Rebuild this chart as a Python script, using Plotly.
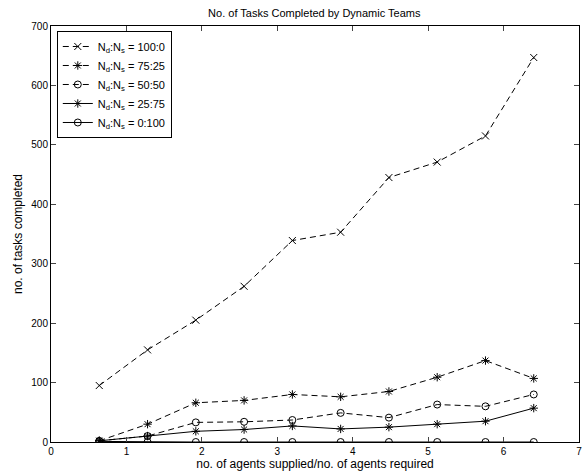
import plotly.graph_objects as go

x_ratio = [0.64, 1.28, 1.92, 2.56, 3.2, 3.84, 4.48, 5.12, 5.76, 6.4]
y_100_0 = [95, 155, 205, 262, 339, 353, 445, 471, 515, 647]
y_75_25 = [2, 30, 66, 70, 80, 76, 85, 109, 137, 107]
y_50_50 = [2, 10, 33, 34, 37, 49, 41, 63, 60, 80]
y_25_75 = [2, 10, 18, 21, 27, 22, 25, 30, 35, 57]
y_0_100 = [1, 0, 0, 0, 0, 0, 0, 0, 0, 0]
names = ["N<sub>d</sub>:N<sub>s</sub> = 100:0", "N<sub>d</sub>:N<sub>s</sub> = 75:25",
         "N<sub>d</sub>:N<sub>s</sub> = 50:50", "N<sub>d</sub>:N<sub>s</sub> = 25:75",
         "N<sub>d</sub>:N<sub>s</sub> = 0:100"]
x_ticks = [0, 1, 2, 3, 4, 5, 6, 7]
y_ticks = [0, 100, 200, 300, 400, 500, 600, 700]

series = [y_100_0, y_75_25, y_50_50, y_25_75, y_0_100]
symbols = ["x-thin-open", "asterisk-open", "circle-open", "asterisk-open", "circle-open"]
dashes = ["6px,4px", "6px,4px", "6px,4px", "solid", "solid"]

fig = go.Figure()
for ys, nm, sym, ds in zip(series, names, symbols, dashes):
    fig.add_trace(go.Scatter(
        x=x_ratio, y=ys, name=nm, mode="lines+markers",
        line=dict(color="black", width=1, dash=ds),
        marker=dict(symbol=sym, size=7, color="black", line=dict(color="black", width=1)),
    ))

font = dict(family="Liberation Sans, Arial, Helvetica, sans-serif", size=10, color="black")
fig.update_layout(
    width=582, height=475,
    margin=dict(l=51, r=3, t=26, b=33),
    paper_bgcolor="white", plot_bgcolor="white",
    font=font,
    title=dict(text="No. of Tasks Completed by Dynamic Teams", x=0.54, xanchor="center",
               y=0.973, yanchor="middle", font=dict(size=11)),
    xaxis=dict(range=[0, 7], tickvals=x_ticks, ticks="inside", ticklen=5, mirror="ticks",
               showline=True, linecolor="black", linewidth=1, showgrid=False, zeroline=False,
               ticklabeloverflow="allow", automargin=False,
               title=dict(text="no. of agents supplied/no. of agents required", standoff=1)),
    yaxis=dict(range=[0, 700], tickvals=y_ticks, ticks="inside", ticklen=5, mirror="ticks",
               showline=True, linecolor="black", linewidth=1, showgrid=False, zeroline=False,
               ticklabeloverflow="allow", automargin=False,
               title=dict(text="no. of tasks completed", standoff=6)),
    legend=dict(x=0.011, y=0.988, xanchor="left", yanchor="top", bordercolor="black",
                borderwidth=1, bgcolor="white", font=dict(size=11), tracegroupgap=0,
                itemwidth=30),
    showlegend=True,
)
fig.write_html("out.html", config={"displayModeBar": False},
               post_script="document.body.style.margin='0';document.body.style.overflow='hidden';")
